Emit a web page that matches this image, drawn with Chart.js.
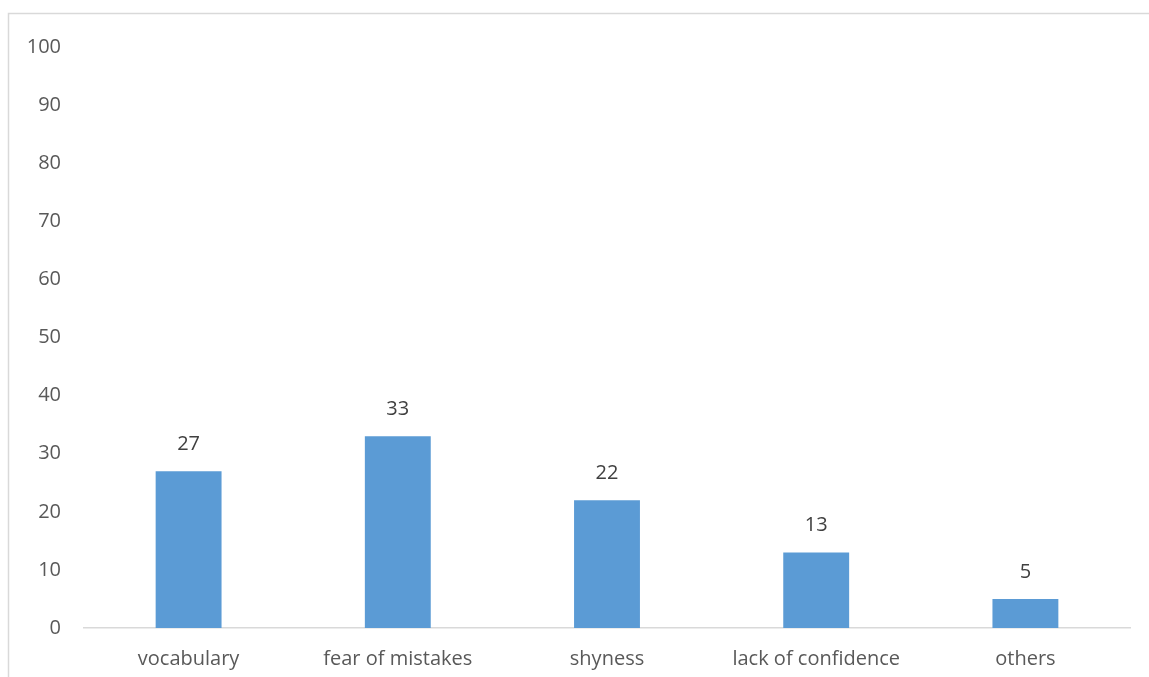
<!DOCTYPE html>
<html>
<head>
<meta charset="utf-8">
<script src="https://cdn.jsdelivr.net/npm/chart.js@4"></script>
<style>
  html, body { margin: 0; padding: 0; background: #fff; }
  #wrap { position: relative; width: 1149px; height: 677px; }
</style>
</head>
<body>
<div id="wrap"><canvas id="chart" width="1149" height="677"></canvas></div>
<script>
// --- Data ---
const categories = ['vocabulary', 'fear of mistakes', 'shyness', 'lack of confidence', 'others'];
const values = [27, 33, 22, 13, 5];
const yTicks = [0, 10, 20, 30, 40, 50, 60, 70, 80, 90, 100];

const FONT = '"Open Sans", "Noto Sans", sans-serif';
const FONT_SIZE = 20;

// frame around the chart (left and top edges visible)
const framePlugin = {
    id: 'frame',
    beforeDraw(chart) {
        const ctx = chart.ctx;
        ctx.save();
        ctx.strokeStyle = '#d9d9d9';
        ctx.lineWidth = 1.5;
        ctx.beginPath();
        ctx.moveTo(8.5, 677);
        ctx.lineTo(8.5, 13.5);
        ctx.lineTo(1149, 13.5);
        ctx.stroke();
        ctx.restore();
    }
};

// value labels above each bar
const labelPlugin = {
    id: 'barLabels',
    afterDatasetsDraw(chart) {
        const ctx = chart.ctx;
        const meta = chart.getDatasetMeta(0);
        ctx.save();
        ctx.font = FONT_SIZE + 'px ' + FONT;
        ctx.fillStyle = '#404040';
        ctx.textAlign = 'center';
        ctx.textBaseline = 'middle';
        meta.data.forEach((bar, i) => {
            ctx.fillText(String(values[i]), bar.x, bar.y - 27);
        });
        ctx.restore();
    }
};

new Chart(document.getElementById('chart'), {
    type: 'bar',
    data: {
        labels: categories,
        datasets: [{
            data: values,
            backgroundColor: '#5b9bd5',
            borderWidth: 0,
            barPercentage: 0.63,
            categoryPercentage: 0.5
        }]
    },
    options: {
        responsive: false,
        animation: false,
        layout: { padding: { left: 0, right: 19, top: 47, bottom: 0 } },
        plugins: { legend: { display: false }, tooltip: { enabled: false } },
        scales: {
            x: {
                grid: { display: false, drawTicks: false },
                border: { display: true, color: '#d9d9d9', width: 1.5 },
                ticks: { color: '#595959', font: { family: FONT, size: FONT_SIZE }, padding: 19, maxRotation: 0 },
                afterFit: s => { s.height = 49; }
            },
            y: {
                min: 0,
                max: 100,
                afterBuildTicks: s => { s.ticks = yTicks.map(v => ({ value: v })); },
                grid: { display: false, drawTicks: false },
                border: { display: false },
                ticks: { color: '#595959', font: { family: FONT, size: FONT_SIZE }, padding: 23 },
                afterFit: s => { s.width = 84; }
            }
        }
    },
    plugins: [framePlugin, labelPlugin]
});
</script>
</body>
</html>
